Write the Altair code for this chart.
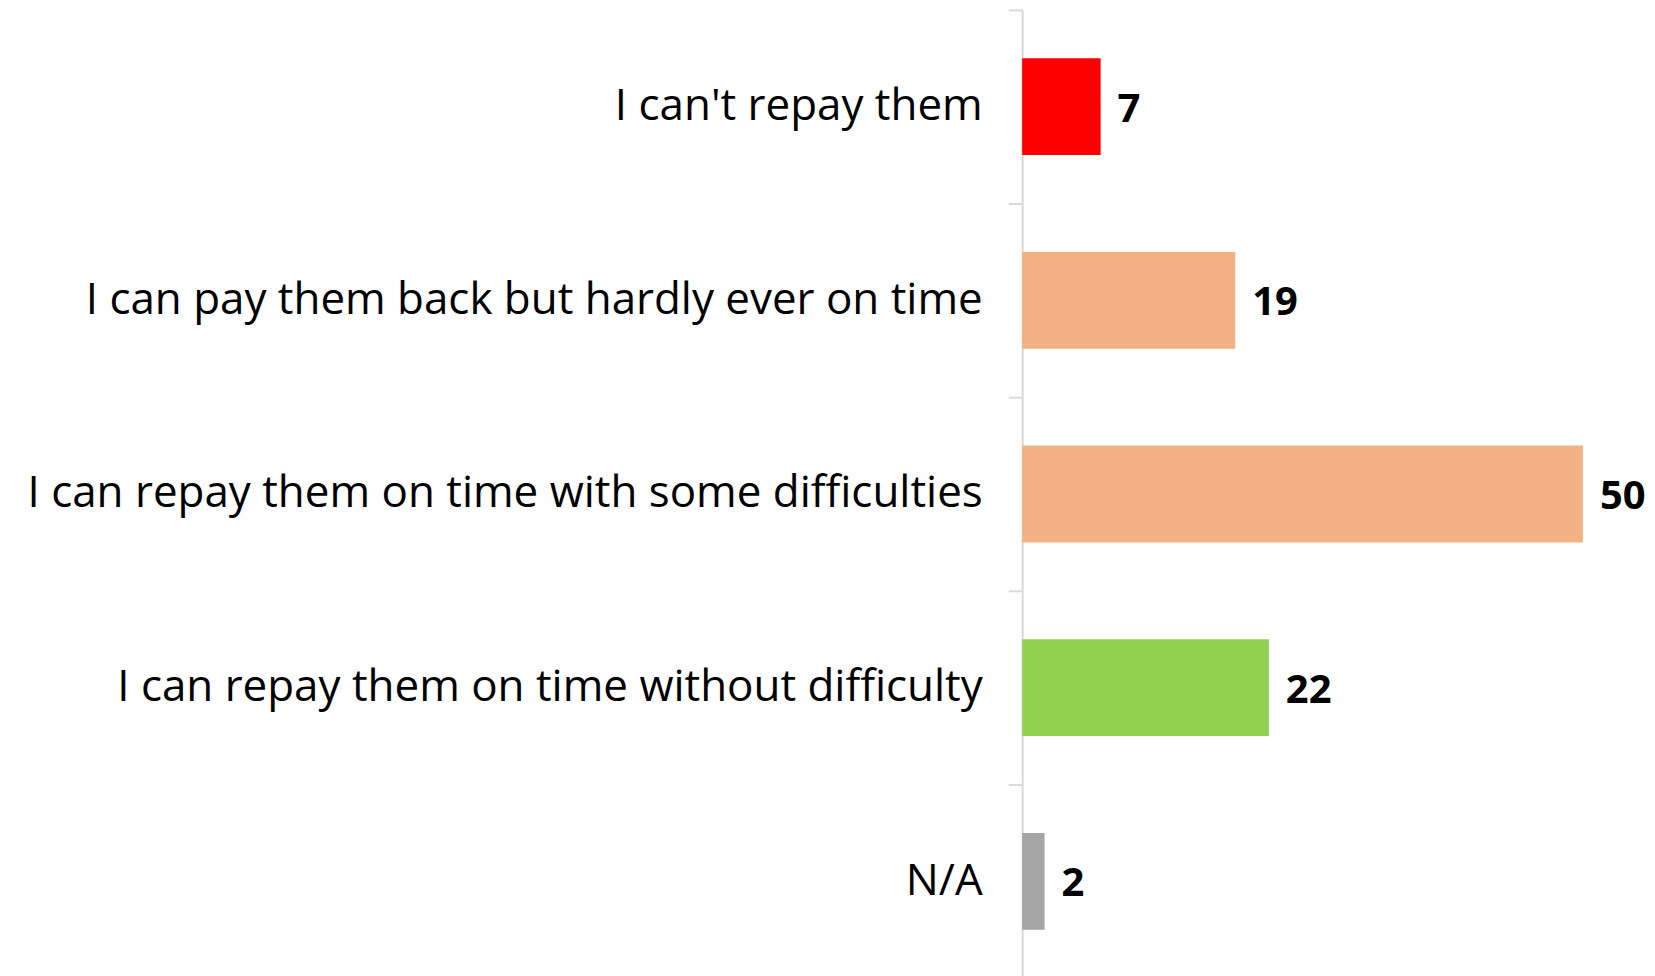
import altair as alt
import pandas as pd

categories = [
    "I can't repay them",
    "I can pay them back but hardly ever on time",
    "I can repay them on time with some difficulties",
    "I can repay them on time without difficulty",
    "N/A",
]
values = [7, 19, 50, 22, 2]
colors = ["#FF0000", "#F4B183", "#F4B183", "#92D050", "#A5A5A5"]

df = pd.DataFrame({"cat": categories, "val": values, "color": colors})

FONT = "Open Sans"

y = alt.Y(
    "cat:N",
    sort=categories,
    scale=alt.Scale(paddingInner=0.5, paddingOuter=0.25),
    axis=alt.Axis(
        title=None,
        labelFont=FONT,
        labelFontSize=44,
        labelColor="#000000",
        labelLimit=0,
        labelPadding=26,
        labelOffset=97,
        tickSize=14,
        tickColor="#D9D9D9",
        tickWidth=2,
        tickOffset=-97,
        domainColor="#D9D9D9",
        domainWidth=2,
        ticks=True,
    ),
)
x = alt.X("val:Q", scale=alt.Scale(domain=[0, 55]), axis=None)

bars = alt.Chart(df).mark_bar().encode(
    y=y, x=x, color=alt.Color("color:N", scale=None)
)
text = alt.Chart(df).mark_text(
    align="left", baseline="middle", dx=17, dy=3, font=FONT, fontWeight="bold", fontSize=40, color="#000000"
).encode(y=alt.Y("cat:N", sort=categories), x="val:Q", text="val:Q")

chart = (
    (bars + text)
    .properties(
        width=618,
        height=970,
        autosize=alt.AutoSizeParams(type="none"),
        padding={"left": 1016, "top": 1, "right": 8, "bottom": 0},
    )
    .configure_view(stroke=None)
)

chart.save("out.html", embed_options={"renderer": "svg", "actions": False})
